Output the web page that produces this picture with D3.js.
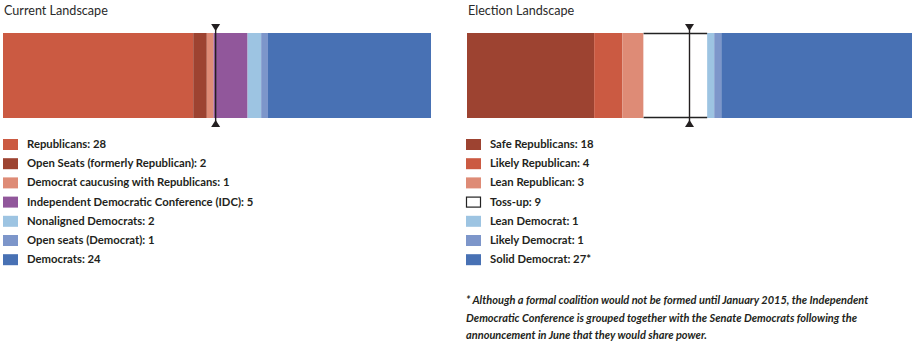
<!DOCTYPE html>
<html><head><meta charset="utf-8">
<script src="https://cdn.jsdelivr.net/npm/d3@7"></script>
<style>
body{margin:0;background:#fff;}
svg{display:block;font-family:Lato,"Open Sans",sans-serif;}
</style></head><body>
<svg id="chart" width="915" height="356"></svg>
<script>
const currentLabels = ["Republicans","Open Seats (formerly Republican)","Democrat caucusing with Republicans","Independent Democratic Conference (IDC)","Nonaligned Democrats","Open seats (Democrat)","Democrats"];
const currentValues = [28,2,1,5,2,1,24];
const currentColors = ["#cb5a42","#9d4331","#de8b76","#91579b","#9dc4e2","#7d96ca","#4871b4"];

const electionLabels = ["Safe Republicans","Likely Republican","Lean Republican","Toss-up","Lean Democrat","Likely Democrat","Solid Democrat"];
const electionValues = [18,4,3,9,1,1,27];
const electionSuffix = ["","","","","","","*"];
const electionColors = ["#9d4331","#cb5a42","#de8b76","#ffffff","#9dc4e2","#7d96ca","#4871b4"];

const footnote = ["* Although a formal coalition would not be formed until January 2015, the Independent",
 "Democratic Conference is grouped together with the Senate Democrats following the",
 "announcement in June that they would share power."];

const svg = d3.select("#chart");
const textColor = "#231f20";

function panel(opts){
  const {title, labels, values, colors, suffix, x0, x1, legendX, tossIdx, midShift} = opts;
  const g = svg.append("g");
  g.append("text").attr("x", x0+1).attr("y", 15).attr("font-size", 12.6).attr("fill", "#2a2a2a").text(title);
  const total = d3.sum(values);
  const x = d3.scaleLinear().domain([0,total]).range([x0,x1]);
  const cum = d3.cumsum(values);
  const starts = values.map((v,i)=> cum[i]-v);
  const y0 = 33, y1 = 118;
  g.selectAll("rect.seg").data(values).join("rect").attr("class","seg")
    .attr("x",(d,i)=>x(starts[i])).attr("y",y0)
    .attr("width",(d,i)=>x(cum[i])-x(starts[i])).attr("height",y1-y0)
    .attr("fill",(d,i)=>colors[i]);
  if (tossIdx != null){
    const a = x(starts[tossIdx]), b = x(cum[tossIdx]);
    [y0+0.5, y1-0.5].forEach(yy=>{
      g.append("line").attr("x1",a).attr("x2",b).attr("y1",yy).attr("y2",yy)
        .attr("stroke","#222").attr("stroke-width",1.3);
    });
  }
  const mx = x(total/2 + (midShift||0));
  g.append("line").attr("x1",mx).attr("x2",mx).attr("y1",25).attr("y2",126)
    .attr("stroke","#231f20").attr("stroke-width",1.4);
  g.append("path").attr("d",`M${mx-4.5},24 L${mx+4.5},24 L${mx},31 Z`).attr("fill","#231f20");
  g.append("path").attr("d",`M${mx-4.5},127 L${mx+4.5},127 L${mx},120 Z`).attr("fill","#231f20");

  const rowY = d3.scaleLinear().domain([0,1]).range([144,163.2]);
  const rows = g.selectAll("g.row").data(labels).join("g").attr("class","row")
    .attr("transform",(d,i)=>`translate(${legendX},${rowY(i)})`);
  rows.append("rect").attr("x",(d,i)=> i===tossIdx?0.5:0).attr("y",(d,i)=> i===tossIdx?-4.5:-5)
    .attr("width",(d,i)=> i===tossIdx?14:15).attr("height",(d,i)=> i===tossIdx?10:11)
    .attr("fill",(d,i)=>colors[i])
    .attr("stroke",(d,i)=> i===tossIdx?"#222":"none").attr("stroke-width",1.2);
  rows.append("text").attr("x",24).attr("y",4).attr("font-size",11.3).attr("font-weight","bold")
    .attr("fill",textColor)
    .text((d,i)=> `${d}: ${values[i]}${suffix?suffix[i]:""}`);
}

panel({title:"Current Landscape", labels:currentLabels, values:currentValues, colors:currentColors,
  x0:3, x1:431, legendX:3, midShift:-0.2});
panel({title:"Election Landscape", labels:electionLabels, values:electionValues, colors:electionColors,
  suffix:electionSuffix, x0:467, x1:912, legendX:466, tossIdx:3});

svg.append("g").selectAll("text").data(footnote).join("text")
  .attr("x",466).attr("y",(d,i)=>304+i*17.5)
  .attr("font-size",11).attr("font-style","italic").attr("font-weight","bold")
  .attr("fill",textColor).text(d=>d);
</script>
</body></html>
